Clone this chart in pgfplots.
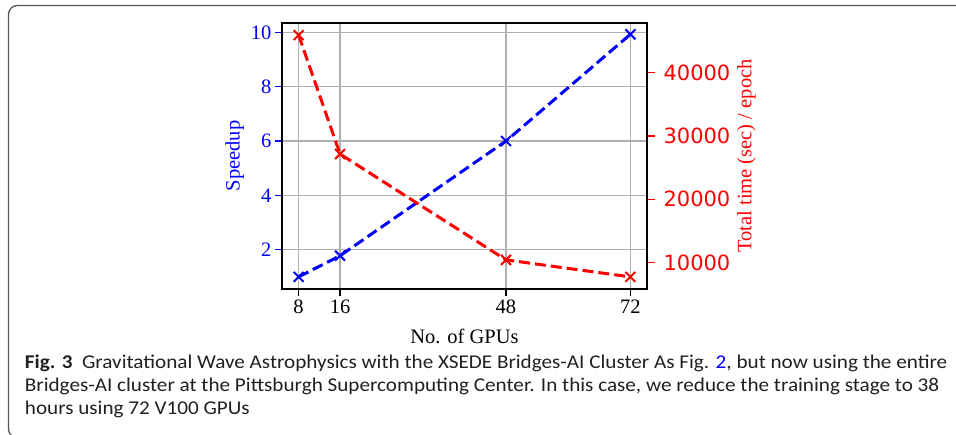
\documentclass[border=0pt]{standalone}
\usepackage{fontspec}
\setmainfont{Liberation Serif}
\newfontfamily\dejavu{DejaVu Sans}
\newfontfamily\capfont{Carlito}
\usepackage{pgfplots}
\pgfplotsset{compat=1.18}
\definecolor{capgray}{HTML}{231F20}
\definecolor{boxgray}{HTML}{555555}
\definecolor{gridgray}{HTML}{B0B0B0}
\newcommand{\capline}[1]{\scalebox{1.085}[1]{\capfont\fontsize{19.5}{23}\selectfont #1}}
\begin{document}
\begin{tikzpicture}
\path[use as bounding box] (0,0) rectangle (956pt,435pt);
\begin{scope}
\clip (0,0) rectangle (956pt,435pt);
\draw[color=boxgray, line width=1.3pt, rounded corners=9pt] (1000pt,-3pt) -- (8.5pt,-3pt) -- (8.5pt,429.5pt) -- (1000pt,429.5pt);
\end{scope}
\begin{axis}[at={(282pt,146pt)}, anchor=south west, scale only axis,
  width=365pt, height=266pt,
  xmin=4.8, xmax=75.2, ymin=0.555, ymax=10.345,
  xtick={8,16,48,72}, ytick={2,4,6,8,10},
  grid=major, major grid style={color=gridgray, line width=1.2pt},
  axis line style={line width=1.5pt, black},
  tick align=outside, xtick pos=bottom, ytick pos=left,
  major tick length=7pt,
  xtick style={black, line width=1.3pt},
  ytick style={blue, line width=1.3pt},
  font=\fontsize{20.5}{24}\selectfont,
  /pgf/number format/assume math mode=true,
  ticklabel style={font=\fontsize{20.5}{24}\selectfont},
  yticklabel style={blue},
  ylabel={Speedup}, ylabel style={blue},
  xlabel={No. of GPUs}, xlabel style={yshift=-9pt},
  clip=false,
]
\addplot[blue, dashed, dash pattern=on 11pt off 5pt, line width=3pt, mark=x, mark size=7pt, mark options={solid, line width=2pt}]
  coordinates {(8,1.0)(16,1.78)(48,6.0)(72,9.93)};
\end{axis}
\begin{axis}[at={(282pt,146pt)}, anchor=south west, scale only axis,
  width=365pt, height=266pt,
  xmin=4.8, xmax=75.2, ymin=5830, ymax=47860,
  axis x line=none, axis y line*=right,
  axis line style={line width=1.5pt, black},
  ytick={10000,20000,30000,40000},
  scaled y ticks=false,
  /pgf/number format/.cd, 1000 sep={}, /pgfplots/.cd,
  /pgf/number format/assume math mode=true,
  tick align=outside, major tick length=8pt,
  ytick style={red, line width=1.3pt},
  yticklabel style={red, xshift=5pt, font=\dejavu\fontsize{21}{24}\selectfont},
  ylabel={Total time (sec) / epoch},
  ylabel style={red, font=\fontsize{20.5}{24}\selectfont},
  clip=false,
]
\addplot[red, dashed, dash pattern=on 11pt off 5pt, line width=3pt, mark=x, mark size=7pt, mark options={solid, line width=2pt}]
  coordinates {(8,45950)(16,27150)(48,10430)(72,7740)};
\end{axis}
\begin{scope}[capgray]
\node[anchor=base west, inner sep=0pt] at (24.7pt,66.7pt) {\capline{\textbf{Fig. 3}\hspace{0.45em}Gravitational Wave Astrophysics with the XSEDE Bridges-AI Cluster As Fig. \textcolor{blue}{2}, but now using the entire}};
\node[anchor=base west, inner sep=0pt] at (24.7pt,43.3pt) {\capline{Bridges-AI cluster at the Pittsburgh Supercomputing Center. In this case, we reduce the training stage to 38}};
\node[anchor=base west, inner sep=0pt] at (24.7pt,20pt) {\capline{hours using 72 V100 GPUs}};
\end{scope}
\end{tikzpicture}
\end{document}
